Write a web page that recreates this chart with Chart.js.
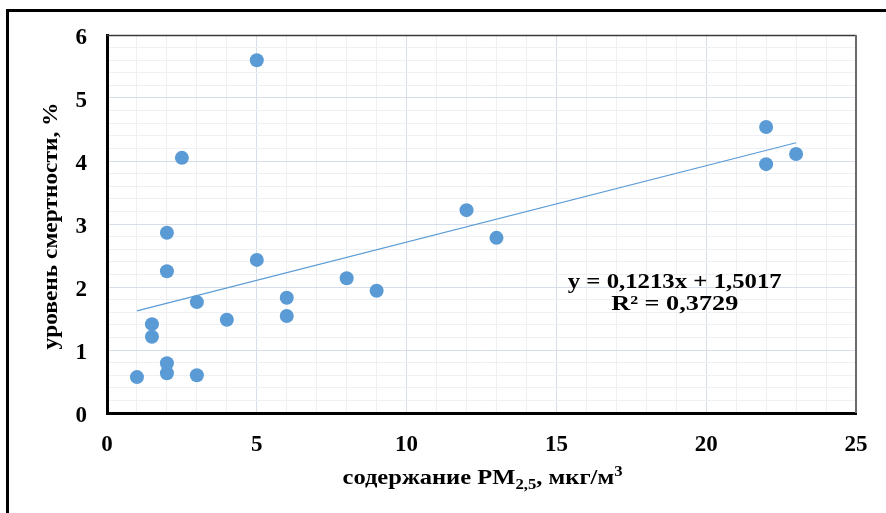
<!DOCTYPE html>
<html>
<head>
<meta charset="utf-8">
<script src="https://cdn.jsdelivr.net/npm/chart.js@4.4.1/dist/chart.umd.min.js"></script>
<style>
  html, body { margin: 0; padding: 0; background: #fff; }
  #wrap { position: relative; width: 886px; height: 513px; overflow: hidden; }
  #frame { position: absolute; left: 6px; top: 9px; width: 900px; height: 520px;
           border-top: 3px solid #000; border-left: 3px solid #000; box-sizing: border-box; }
  canvas { position: absolute; left: 0; top: 0; }
</style>
</head>
<body>
<div id="wrap">
  <div id="frame"></div>
  <canvas id="c" width="886" height="513"></canvas>
</div>
<script>
// Data
const pmValues = [1, 2, 2, 3, 1.5, 1.5, 3, 4, 2, 2, 2.5, 5, 5, 6, 6, 8, 9, 12, 13, 22, 22, 23];
const mortality = [0.57, 0.63, 0.79, 0.60, 1.21, 1.41, 1.76, 1.48, 2.25, 2.86, 4.05, 5.60, 2.43, 1.83, 1.54, 2.14, 1.94, 3.22, 2.78, 4.54, 3.95, 4.11];
const trendX = [1, 23];
const trendY = [1.62, 4.29];
const xTickLabels = [0, 5, 10, 15, 20, 25];
const yTickLabels = [0, 1, 2, 3, 4, 5, 6];
const equationText = 'y = 0,1213x + 1,5017';
const r2Text = 'R² = 0,3729';
const yTitle = 'уровень смертности, %';
const xTitleParts = [
  { t: 'содержание PM', k: 'n' },
  { t: '2,5', k: 'sub' },
  { t: ', мкг/м', k: 'n' },
  { t: '3', k: 'sup' }
];

const FONT = '"Liberation Serif", "Times New Roman", serif';
const BLUE = '#5b9bd5';

const scatterData = pmValues.map((x, i) => ({ x: x, y: mortality[i] }));
const trendData = trendX.map((x, i) => ({ x: x, y: trendY[i] }));

function isInt(v) { return Math.abs(v - Math.round(v)) < 1e-6; }

function stretchedText(ctx, text, cx, base, targetW) {
  const w = ctx.measureText(text).width;
  const s = targetW / w;
  ctx.save();
  ctx.translate(cx, base);
  ctx.scale(s, 1);
  ctx.textAlign = 'center';
  ctx.fillText(text, 0, 0);
  ctx.restore();
}

const decorPlugin = {
  id: 'decor',
  beforeDatasetsDraw(chart) {
    const { ctx, chartArea: a } = chart;
    ctx.save();
    ctx.strokeStyle = '#3a3a3a';
    ctx.lineWidth = 1.5;
    ctx.beginPath();
    ctx.moveTo(a.left, a.top + 0.5);
    ctx.lineTo(a.right, a.top + 0.5);
    ctx.stroke();
    ctx.strokeStyle = '#6a6a6a';
    ctx.lineWidth = 2;
    ctx.beginPath();
    ctx.moveTo(a.right, a.top);
    ctx.lineTo(a.right, a.bottom);
    ctx.stroke();
    ctx.restore();
  },
  afterDraw(chart) {
    const { ctx, chartArea: a, scales } = chart;
    ctx.save();
    ctx.fillStyle = '#000';
    ctx.textBaseline = 'alphabetic';

    ctx.font = 'bold 22px ' + FONT;
    const ex = scales.x.getPixelForValue(18.95);
    stretchedText(ctx, equationText, ex, scales.y.getPixelForValue(1.99), 214);
    stretchedText(ctx, r2Text, ex, scales.y.getPixelForValue(1.64), 127);

    ctx.save();
    ctx.translate(57, (a.top + a.bottom) / 2 + 2);
    ctx.rotate(-Math.PI / 2);
    ctx.font = 'bold 22px ' + FONT;
    stretchedText(ctx, yTitle, 0, 0, 247);
    ctx.restore();

    const base = 484;
    const fN = 'bold 22px ' + FONT, fS = 'bold 15px ' + FONT;
    let total = 0;
    xTitleParts.forEach(p => { ctx.font = p.k === 'n' ? fN : fS; total += ctx.measureText(p.t).width; });
    const targetW = 280;
    const sc = targetW / total;
    ctx.save();
    ctx.translate((a.left + a.right) / 2 - targetW / 2 + 1, base);
    ctx.scale(sc, 1);
    ctx.textAlign = 'left';
    let x = 0;
    xTitleParts.forEach(p => {
      ctx.font = p.k === 'n' ? fN : fS;
      const dy = p.k === 'sub' ? 5 : (p.k === 'sup' ? -8 : 0);
      ctx.fillText(p.t, x, dy);
      x += ctx.measureText(p.t).width;
    });
    ctx.restore();
    ctx.restore();
  }
};

new Chart(document.getElementById('c'), {
  type: 'scatter',
  data: {
    datasets: [
      {
        label: 'trend',
        type: 'line',
        data: trendData,
        borderColor: BLUE,
        borderWidth: 1.2,
        pointRadius: 0,
        fill: false,
        order: 2
      },
      {
        label: 'data',
        data: scatterData,
        backgroundColor: BLUE,
        borderColor: BLUE,
        borderWidth: 0,
        pointRadius: 7,
        pointHoverRadius: 7,
        order: 1
      }
    ]
  },
  options: {
    responsive: false,
    animation: false,
    events: [],
    layout: { padding: { left: 0, top: 35, right: 30, bottom: 0 } },
    plugins: { legend: { display: false }, tooltip: { enabled: false } },
    scales: {
      x: {
        type: 'linear',
        min: 0, max: 25,
        afterFit(s) { s.height = 100; },
        afterBuildTicks(s) {
          const t = [];
          for (let v = 0; v <= 25; v += 1) t.push({ value: v });
          s.ticks = t;
        },
        ticks: {
          autoSkip: false,
          maxRotation: 0,
          padding: 18,
          color: '#000',
          font: { family: FONT, size: 23, weight: 'bold' },
          callback: v => (xTickLabels.includes(v) ? String(v) : '')
        },
        grid: {
          drawTicks: false,
          color: c => (c.tick && c.tick.value % 5 === 0 ? '#d8dee8' : '#eef0f4'),
          lineWidth: 1
        },
        border: { color: '#000', width: 3 }
      },
      y: {
        type: 'linear',
        min: 0, max: 6,
        afterFit(s) { s.width = 107; },
        afterBuildTicks(s) {
          const t = [];
          for (let i = 0; i <= 30; i++) t.push({ value: i / 5 });
          s.ticks = t;
        },
        ticks: {
          autoSkip: false,
          padding: 20,
          labelOffset: 3,
          color: '#000',
          font: { family: FONT, size: 23, weight: 'bold' },
          callback: v => (isInt(v) && yTickLabels.includes(Math.round(v)) ? String(Math.round(v)) : '')
        },
        grid: {
          drawTicks: false,
          color: c => (c.tick && isInt(c.tick.value) ? '#d8dee8' : '#eef0f4'),
          lineWidth: 1
        },
        border: { color: '#000', width: 3 }
      }
    }
  },
  plugins: [decorPlugin]
});
</script>
</body>
</html>
